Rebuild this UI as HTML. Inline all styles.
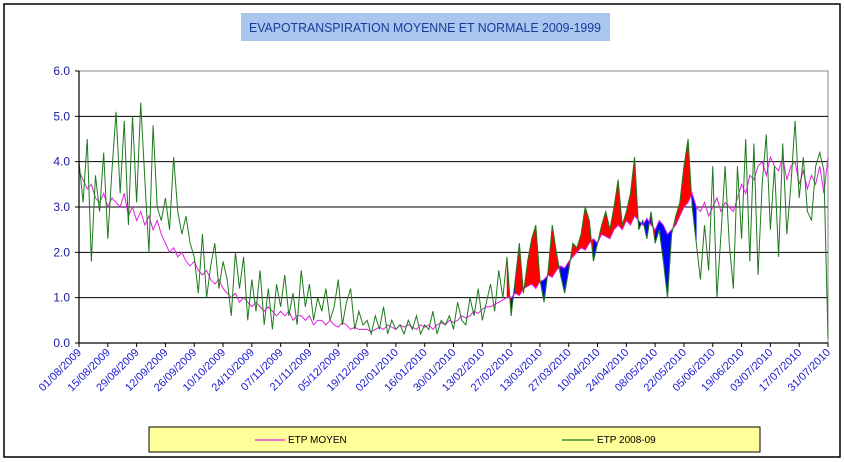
<!DOCTYPE html>
<html><head><meta charset="utf-8"><style>
body{margin:0;background:#fff;}
svg{display:block;font-family:"Liberation Sans",sans-serif;}
</style></head><body>
<svg id="chart" width="844" height="462" viewBox="0 0 844 462">
<rect x="4" y="4" width="836" height="453" fill="#fff" stroke="#000" stroke-width="1.5"/>
<rect x="241" y="13" width="369" height="28" fill="#a9c6ef"/>
<text x="425" y="32" text-anchor="middle" font-size="12.5" fill="#1a3a9a" textLength="352" lengthAdjust="spacingAndGlyphs">EVAPOTRANSPIRATION MOYENNE ET NORMALE 2009-1999</text>
<g id="grid"></g>
<g id="fills"></g>
<g id="lines"></g>
<g id="axes"></g>
<g>
<rect x="149" y="427" width="611" height="25" fill="#ffff99" stroke="#000" stroke-width="1"/>
<line x1="255" y1="440" x2="285" y2="440" stroke="#e020e0" stroke-width="1.2"/>
<text x="288" y="443" font-size="10" fill="#000">ETP MOYEN</text>
<line x1="562" y1="440" x2="594" y2="440" stroke="#1e7a1e" stroke-width="1.2"/>
<text x="597" y="443" font-size="10" fill="#000">ETP 2008-09</text>
</g>
</svg>
<script>
const tickLabels=["01/08/2009","15/08/2009","29/08/2009","12/09/2009","26/09/2009","10/10/2009","24/10/2009","07/11/2009","21/11/2009","05/12/2009","19/12/2009","02/01/2010","16/01/2010","30/01/2010","13/02/2010","27/02/2010","13/03/2010","27/03/2010","10/04/2010","24/04/2010","08/05/2010","22/05/2010","05/06/2010","19/06/2010","03/07/2010","17/07/2010","31/07/2010"];
const yTicks=[0,1,2,3,4,5,6];
const yTickLabels=["0.0","1.0","2.0","3.0","4.0","5.0","6.0"];
const etpMoyen=[3.8,3.6,3.4,3.5,3.2,3.1,3.3,3.0,3.2,3.1,
3.0,3.3,2.8,3.0,2.7,2.9,2.6,2.8,2.5,2.7,
2.4,2.2,2.0,2.1,1.9,2.0,1.8,1.7,1.8,1.6,
1.5,1.6,1.4,1.3,1.4,1.2,1.1,1.0,1.1,0.9,
1.0,0.9,0.8,0.9,0.8,0.7,0.8,0.7,0.6,0.7,
0.6,0.7,0.5,0.6,0.6,0.5,0.6,0.4,0.5,0.5,
0.4,0.5,0.4,0.35,0.45,0.4,0.3,0.35,0.3,0.3,
0.3,0.25,0.3,0.35,0.3,0.4,0.35,0.3,0.4,0.35,
0.4,0.35,0.3,0.4,0.35,0.4,0.3,0.4,0.45,0.4,
0.5,0.45,0.5,0.6,0.55,0.6,0.7,0.65,0.75,0.8,
0.8,0.85,0.9,0.95,1.0,1.0,1.1,1.05,1.2,1.25,
1.3,1.2,1.35,1.4,1.5,1.45,1.6,1.7,1.65,1.8,
1.9,2.0,2.1,2.05,2.2,2.3,2.2,2.4,2.35,2.3,
2.5,2.6,2.5,2.7,2.6,2.8,2.7,2.6,2.75,2.6,
2.5,2.7,2.6,2.4,2.5,2.6,2.8,3.0,3.1,3.3,
3.0,2.9,3.1,2.8,3.0,3.2,2.9,3.1,3.0,2.9,
3.2,3.5,3.3,3.7,3.6,3.9,4.0,3.7,4.1,3.9,
3.8,4.1,3.6,3.9,4.0,3.5,3.8,3.4,3.7,3.5,
3.9,3.3,4.1];
const etp2008=[4.0,3.1,4.5,1.8,3.7,2.9,4.2,2.3,3.8,5.1,
3.3,4.9,2.6,5.0,3.1,5.3,3.6,2.0,4.8,3.0,
2.7,3.2,2.5,4.1,2.9,2.4,2.8,2.2,1.9,1.1,
2.4,1.0,1.7,2.2,1.2,1.8,1.4,0.6,2.0,1.2,
1.9,0.5,1.4,0.7,1.6,0.4,1.2,0.3,1.3,0.8,
1.5,0.6,1.1,0.4,1.6,0.8,1.3,0.5,1.0,0.7,
1.2,0.5,0.8,1.4,0.4,0.9,1.2,0.3,0.7,0.4,
0.5,0.2,0.6,0.3,0.8,0.2,0.5,0.3,0.4,0.2,
0.5,0.3,0.6,0.2,0.4,0.3,0.7,0.2,0.5,0.4,
0.6,0.3,0.9,0.5,0.4,1.0,0.6,1.2,0.5,0.9,
1.3,0.7,1.6,1.0,1.9,0.6,1.4,2.2,1.1,1.8,
2.3,2.6,1.4,0.9,1.6,2.6,2.0,1.5,1.1,1.6,
2.2,2.1,2.4,3.0,2.7,1.8,2.2,2.6,2.9,2.5,
3.0,3.6,2.6,2.9,3.3,4.1,2.5,2.7,2.3,2.9,
2.2,2.5,1.8,1.0,2.4,2.8,3.1,3.9,4.5,3.0,
2.2,1.4,2.6,1.6,3.9,1.0,2.4,3.9,2.2,1.2,
3.9,2.3,4.5,1.8,4.4,1.5,3.5,4.6,2.5,3.9,
1.9,4.4,2.4,3.5,4.9,3.2,4.1,2.9,2.7,3.9,
4.2,3.8,0.1];
const fillStart=104, fillEnd=150;
const NS="http://www.w3.org/2000/svg";
const X0=79,X1=828,Y0=343,Y6=71,DAYS=364;
const xDay=d=>X0+d*(X1-X0)/DAYS;
const xIdx=i=>xDay(Math.min(i*2,DAYS));
const yV=v=>Y0-v*(Y0-Y6)/6;
function mk(tag,attrs,parent){const e=document.createElementNS(NS,tag);for(const k in attrs)e.setAttribute(k,attrs[k]);parent.appendChild(e);return e;}
const grid=document.getElementById('grid'),axes=document.getElementById('axes'),fills=document.getElementById('fills'),lines=document.getElementById('lines');
const border=mk('rect',{x:X0,y:Y6,width:X1-X0,height:Y0-Y6,fill:'none',stroke:'#888','stroke-width':1},grid);


yTicks.forEach((v,k)=>{
 if(v>0&&v<6){const gl=mk('line',{x1:X0,x2:X1,y1:yV(v),y2:yV(v),stroke:'#000','stroke-width':1},grid);
 
 }
 const t=mk('line',{x1:X0-4,x2:X0,y1:yV(v),y2:yV(v),stroke:'#000'},axes);
 
 
 const tx=mk('text',{x:X0-9,y:yV(v)+4,'text-anchor':'end','font-size':12,fill:'#1a1aa0'},axes);
 tx.textContent=yTickLabels[k];
 
 
});
const ya=mk('line',{x1:X0,x2:X0,y1:Y6,y2:Y0,stroke:'#000','stroke-width':1.2},axes);


const xa=mk('line',{x1:X0,x2:X1,y1:Y0,y2:Y0,stroke:'#000','stroke-width':1.2},axes);


tickLabels.forEach((lab,k)=>{
 const d=Math.min(k*14,DAYS),x=xDay(d);
 const t=mk('line',{x1:x,x2:x,y1:Y0,y2:Y0+4,stroke:'#000'},axes);
 
 
 const tx=mk('text',{x:x+3,y:Y0+10,'text-anchor':'end','font-size':11,fill:'#1a1ad0',transform:`rotate(-45 ${x+3} ${Y0+10})`},axes);
 tx.textContent=lab;
 
 
});
for(let i=fillStart;i<fillEnd;i++){
 const a=etp2008[i]-etpMoyen[i],b=etp2008[i+1]-etpMoyen[i+1];
 const col=(a+b)>=0?'#ff0000':'#0000ff';
 const p=mk('polygon',{points:`${xIdx(i)},${yV(etp2008[i])} ${xIdx(i+1)},${yV(etp2008[i+1])} ${xIdx(i+1)},${yV(etpMoyen[i+1])} ${xIdx(i)},${yV(etpMoyen[i])}`,fill:col,stroke:col,'stroke-width':0.5},fills);
 
 
}
const ptsM=etpMoyen.map((v,i)=>`${xIdx(i)},${yV(v)}`).join(' ');
const pm=mk('polyline',{points:ptsM,fill:'none',stroke:'#e020e0','stroke-width':1},lines);


const ptsG=etp2008.map((v,i)=>`${xIdx(i)},${yV(v)}`).join(' ');
const pg=mk('polyline',{points:ptsG,fill:'none',stroke:'#1e7a1e','stroke-width':1},lines);


</script>
</body></html>
